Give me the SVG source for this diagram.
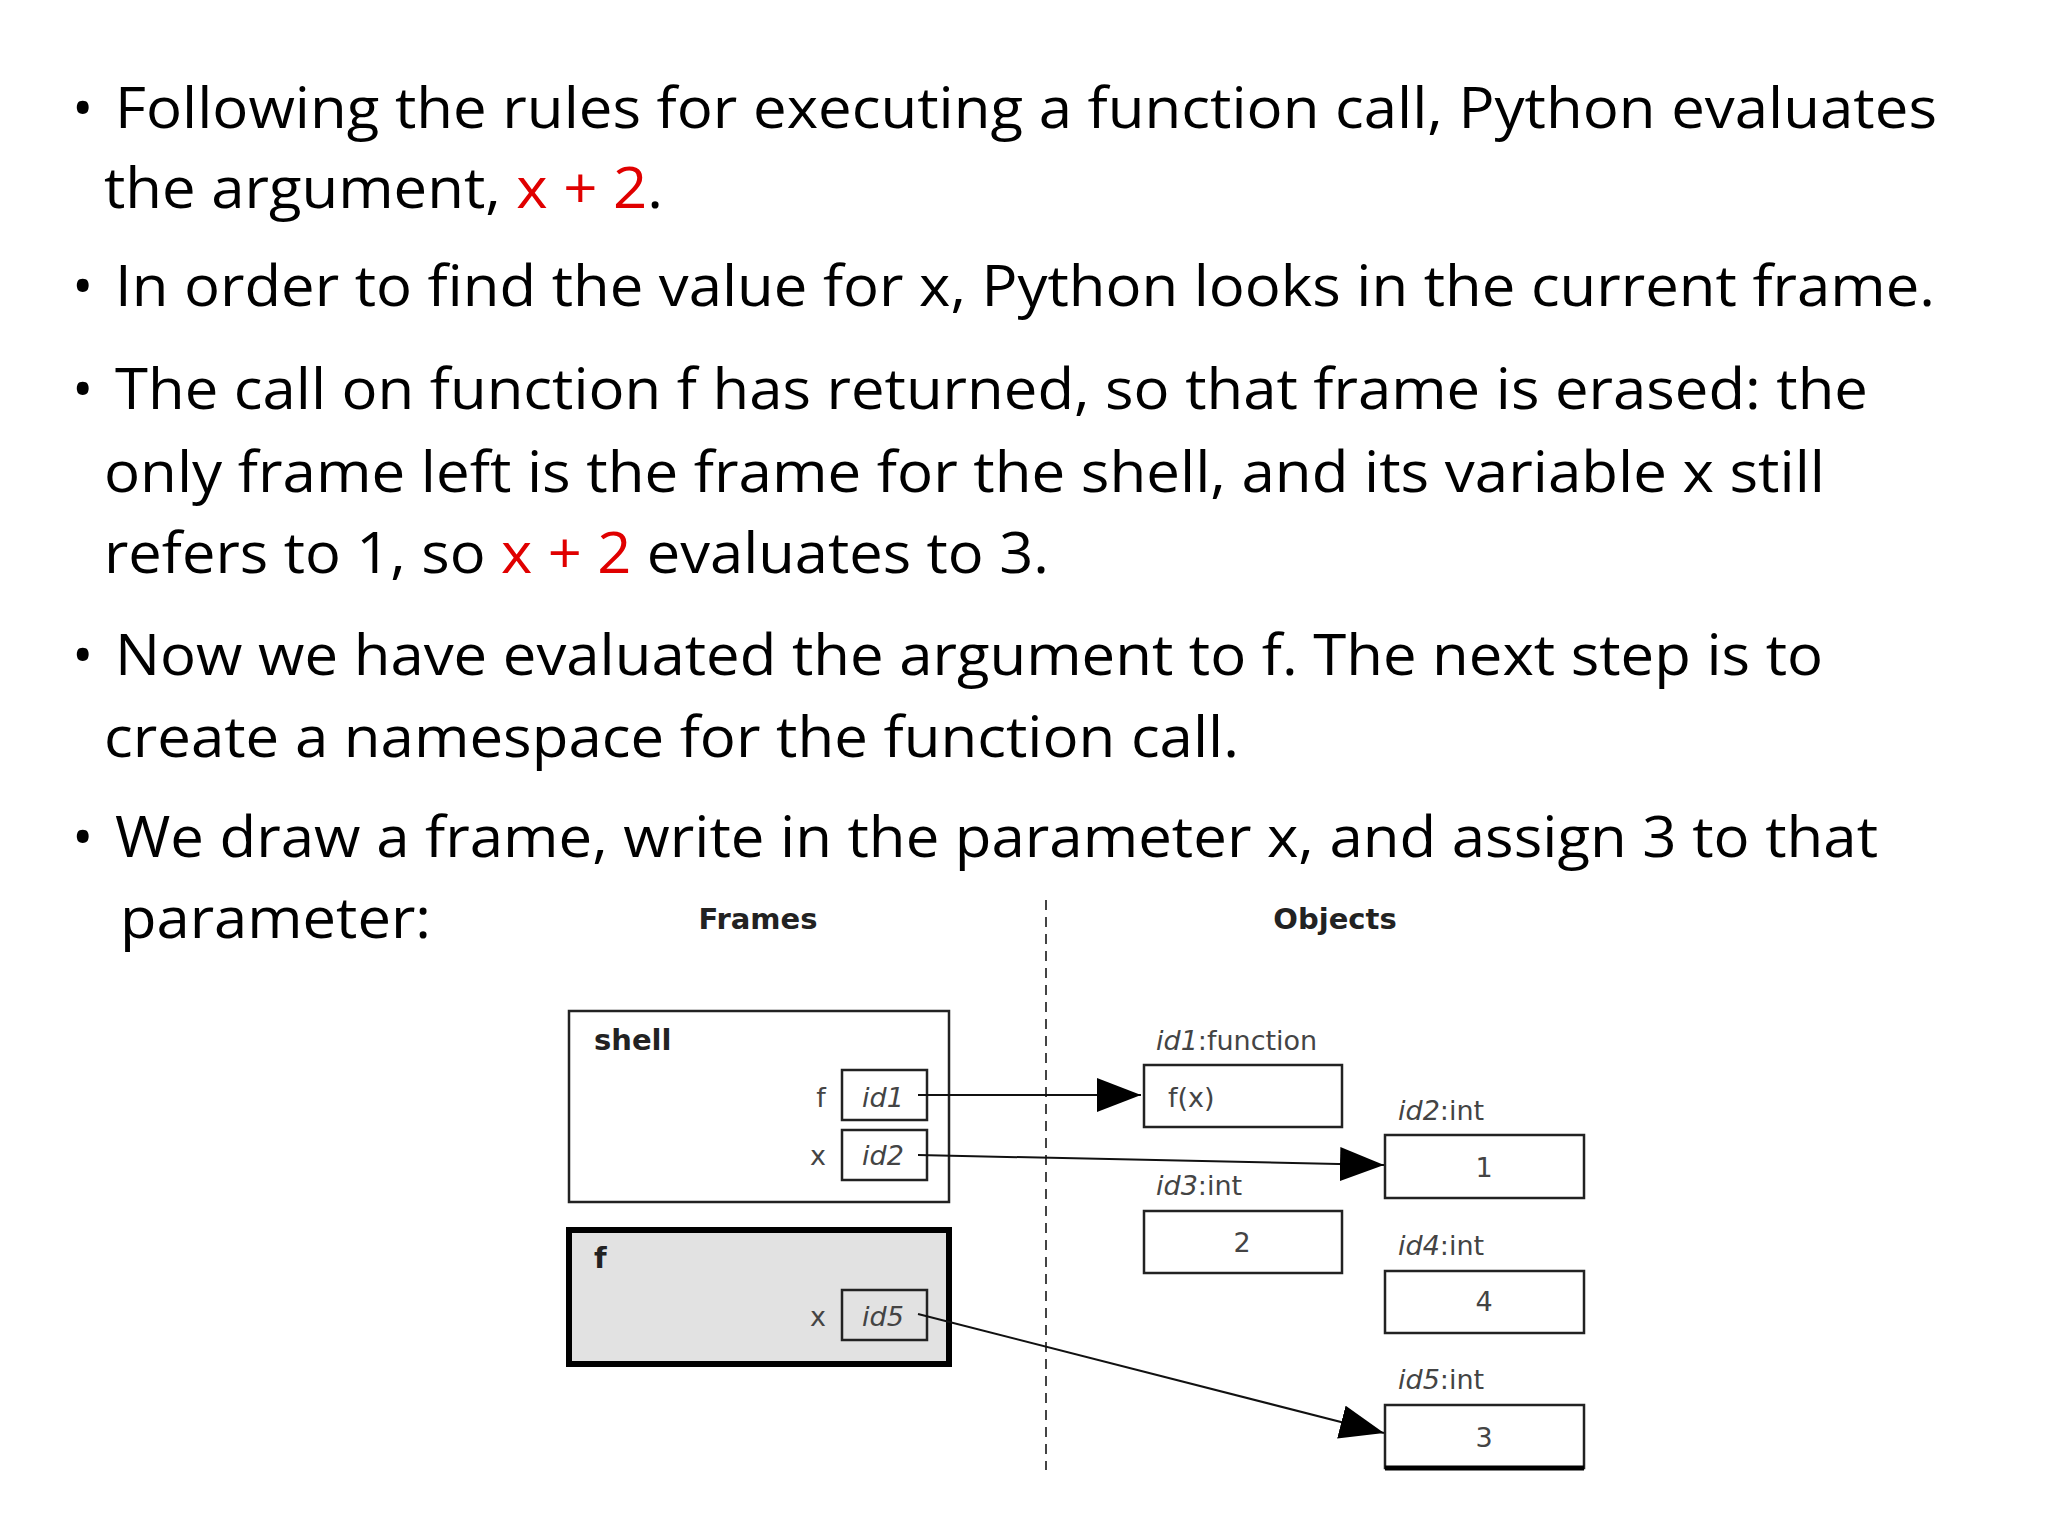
<svg xmlns="http://www.w3.org/2000/svg" width="2048" height="1536" viewBox="0 0 2048 1536">
<style>
.t{font-family:"Open Sans","Noto Sans",sans-serif;font-size:57px;fill:#000}
.r{fill:#e00000}
.d{font-family:"DejaVu Sans",sans-serif;fill:#222}
.h{font-size:29px;font-weight:bold}
.lbl{font-size:27px;fill:#444}
.it{font-style:italic}
.box{fill:#fff;stroke:#222;stroke-width:2.5}
.con{stroke:#111;stroke-width:2;fill:none}
</style>
<defs><marker id="ah" markerWidth="44" markerHeight="34" refX="44" refY="17" orient="auto" markerUnits="userSpaceOnUse"><path d="M0,0 L44,17 L0,34 z" fill="#000"/></marker></defs>
<rect width="2048" height="1536" fill="#fff"/>
<g id="text">
<text class="t" x="72" y="128">•</text><text class="t" x="115" y="128" textLength="1822" lengthAdjust="spacingAndGlyphs">Following the rules for executing a function call, Python evaluates</text>
<text class="t" x="104" y="208" textLength="559" lengthAdjust="spacingAndGlyphs">the argument, <tspan class="r">x + 2</tspan>.</text>
<text class="t" x="72" y="306">•</text><text class="t" x="115" y="306" textLength="1820" lengthAdjust="spacingAndGlyphs">In order to find the value for x, Python looks in the current frame.</text>
<text class="t" x="72" y="409">•</text><text class="t" x="115" y="409" textLength="1753" lengthAdjust="spacingAndGlyphs">The call on function f has returned, so that frame is erased: the</text>
<text class="t" x="104" y="492" textLength="1721" lengthAdjust="spacingAndGlyphs">only frame left is the frame for the shell, and its variable x still</text>
<text class="t" x="104" y="573" textLength="945" lengthAdjust="spacingAndGlyphs">refers to 1, so <tspan class="r">x + 2</tspan> evaluates to 3.</text>
<text class="t" x="72" y="675">•</text><text class="t" x="115" y="675" textLength="1708" lengthAdjust="spacingAndGlyphs">Now we have evaluated the argument to f. The next step is to</text>
<text class="t" x="104" y="757" textLength="1135" lengthAdjust="spacingAndGlyphs">create a namespace for the function call.</text>
<text class="t" x="72" y="857">•</text><text class="t" x="115" y="857" textLength="1763" lengthAdjust="spacingAndGlyphs">We draw a frame, write in the parameter x, and assign 3 to that</text>
<text class="t" x="120" y="938" textLength="311" lengthAdjust="spacingAndGlyphs">parameter:</text>
</g>
<g id="headers">
<text class="d h" x="758" y="929" text-anchor="middle">Frames</text>
<text class="d h" x="1335" y="929" text-anchor="middle">Objects</text>
<line x1="1046" y1="900" x2="1046" y2="1470" stroke="#444" stroke-width="2" stroke-dasharray="10,7"/>
</g>
<g id="shell">
<rect class="box" x="569" y="1011" width="380" height="191"/>
<text class="d h" x="594" y="1050">shell</text>
<text class="d lbl" x="821" y="1107" text-anchor="middle">f</text>
<rect class="box" x="842" y="1070" width="85" height="50"/>
<text class="d lbl it" x="883" y="1107" text-anchor="middle">id1</text>
<text class="d lbl" x="818" y="1165" text-anchor="middle">x</text>
<rect class="box" x="842" y="1130" width="85" height="50"/>
<text class="d lbl it" x="883" y="1165" text-anchor="middle">id2</text>
</g>
<g id="fframe">
<rect x="569" y="1230" width="380" height="134" fill="#e2e2e2" stroke="#000" stroke-width="6"/>
<text class="d h" x="594" y="1268">f</text>
<text class="d lbl" x="818" y="1326" text-anchor="middle">x</text>
<rect class="box" x="842" y="1290" width="85" height="50" fill="#e2e2e2" style="fill:#e2e2e2"/>
<text class="d lbl it" x="883" y="1326" text-anchor="middle">id5</text>
</g>
<g id="id1obj">
<text class="d lbl" x="1156" y="1050"><tspan class="it">id1</tspan>:function</text>
<rect class="box" x="1144" y="1065" width="198" height="62"/>
<text class="d lbl" x="1168" y="1107">f(x)</text>
</g>
<g id="id2obj">
<text class="d lbl" x="1398" y="1120"><tspan class="it">id2</tspan>:int</text>
<rect class="box" x="1385" y="1135" width="199" height="63"/>
<text class="d lbl" x="1484" y="1177" text-anchor="middle">1</text>
</g>
<g id="id3obj">
<text class="d lbl" x="1156" y="1195"><tspan class="it">id3</tspan>:int</text>
<rect class="box" x="1144" y="1211" width="198" height="62"/>
<text class="d lbl" x="1242" y="1252" text-anchor="middle">2</text>
</g>
<g id="id4obj">
<text class="d lbl" x="1398" y="1255"><tspan class="it">id4</tspan>:int</text>
<rect class="box" x="1385" y="1271" width="199" height="62"/>
<text class="d lbl" x="1484" y="1311" text-anchor="middle">4</text>
</g>
<g id="id5obj">
<text class="d lbl" x="1398" y="1389"><tspan class="it">id5</tspan>:int</text>
<rect class="box" x="1385" y="1405" width="199" height="63"/>
<line x1="1385" y1="1468" x2="1584" y2="1468" stroke="#000" stroke-width="5"/>
<text class="d lbl" x="1484" y="1447" text-anchor="middle">3</text>
</g>
<g id="connectors">
<line class="con" x1="918" y1="1095" x2="1141" y2="1095" marker-end="url(#ah)"/>
<line class="con" x1="918" y1="1155" x2="1384" y2="1165" marker-end="url(#ah)"/>
<line class="con" x1="918" y1="1314" x2="1384" y2="1433" marker-end="url(#ah)"/>
</g>
</svg>
